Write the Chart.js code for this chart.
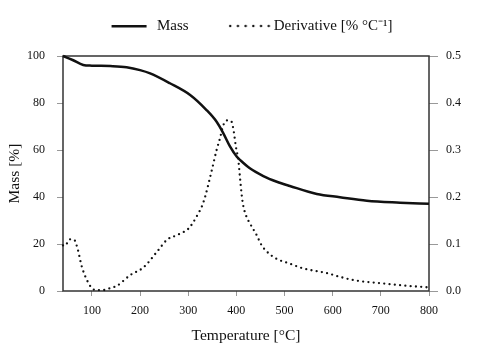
<!DOCTYPE html>
<html>
<head>
<meta charset="utf-8">
<script src="https://cdn.jsdelivr.net/npm/chart.js@4/dist/chart.umd.min.js"></script>
<style>
  html, body { margin: 0; padding: 0; background: #fff; }
  #wrap { width: 480px; height: 358px; }
</style>
</head>
<body>
<div id="wrap"><canvas id="tgaChart"></canvas></div>
<script>
// temperature / mass readings
const massTemps = [40, 60, 82, 100, 138, 172, 200, 221, 262, 304, 338, 359, 373, 387, 401, 408, 428, 456, 484, 511, 567, 615, 671, 740, 800];
const massValues = [100, 98.3, 96.2, 95.9, 95.7, 95.2, 94.0, 92.6, 88.4, 83.4, 77.0, 72.0, 67.1, 61.4, 57.1, 55.7, 52.2, 48.9, 46.5, 44.7, 41.3, 39.9, 38.4, 37.6, 37.1];

// derivative readings (right axis)
const derivTemps = [40, 44, 54, 63, 70, 79, 88, 100, 111, 124, 138, 152, 180, 207, 238, 256, 277, 301, 309, 321, 328, 335, 349, 359, 366, 373, 381, 390, 394, 399, 404, 408, 411, 414, 421, 428, 442, 452, 463, 484, 506, 539, 588, 615, 650, 705, 754, 795];
const derivValues = [0.097, 0.096, 0.110, 0.109, 0.091, 0.052, 0.027, 0.006, 0.002, 0.002, 0.006, 0.011, 0.034, 0.050, 0.087, 0.109, 0.119, 0.133, 0.144, 0.165, 0.179, 0.200, 0.257, 0.300, 0.325, 0.353, 0.363, 0.360, 0.343, 0.307, 0.279, 0.236, 0.205, 0.183, 0.158, 0.144, 0.119, 0.098, 0.084, 0.068, 0.060, 0.048, 0.038, 0.030, 0.022, 0.016, 0.011, 0.008];

const xTicks = [100, 200, 300, 400, 500, 600, 700, 800];
const massTicks = [0, 20, 40, 60, 80, 100];
const derivTicks = [0, 0.1, 0.2, 0.3, 0.4, 0.5];

const serif = '"Liberation Serif", "Times New Roman", serif';
const ink = '#111';

// little legend samples
function legendSample(dotted) {
    const c = document.createElement('canvas');
    c.width = dotted ? 66 : 56;
    c.height = 6;
    const g = c.getContext('2d');
    g.fillStyle = ink;
    if (dotted) {
        for (let i = 0; i < 6; i++) {
            g.beginPath();
            g.arc(25 + i * 7.7, 3, 1.2, 0, Math.PI * 2);
            g.fill();
        }
    } else {
        g.fillRect(18, 2, 35, 2.5);
    }
    return c;
}

const boxPlugin = {
    id: 'plotBox',
    afterInit(chart) {
        const lg = chart.legend;
        const fit = lg.fit;
        lg.fit = function() {
            fit.call(this);
            this.height = 56;
        };
    },
    beforeDraw(chart) {
        chart.legend.left = 6;
        chart.legend.top = -3;
    },
    beforeDatasetsDraw(chart) {
        const a = chart.chartArea;
        const ctx = chart.ctx;
        ctx.save();
        ctx.strokeStyle = '#333';
        ctx.lineWidth = 1.5;
        ctx.strokeRect(a.left, a.top, a.right - a.left, a.bottom - a.top);
        ctx.restore();
    }
};

const ctx = document.getElementById('tgaChart').getContext('2d');
new Chart(ctx, {
    type: 'line',
    data: {
        datasets: [{
            label: 'Mass',
            data: massTemps.map((t, i) => ({ x: t, y: massValues[i] })),
            yAxisID: 'y',
            borderColor: ink,
            borderWidth: 2.5,
            pointRadius: 0,
            cubicInterpolationMode: 'monotone',
            clip: 4
        }, {
            label: 'Derivative [% \u00B0C\u207B\u00B9]',
            data: derivTemps.map((t, i) => ({ x: t, y: derivValues[i] })),
            yAxisID: 'y1',
            borderColor: ink,
            borderWidth: 2.3,
            borderDash: [0, 5.3],
            borderCapStyle: 'round',
            pointRadius: 0,
            cubicInterpolationMode: 'monotone',
            clip: 4
        }]
    },
    options: {
        responsive: true,
        maintainAspectRatio: false,
        animation: false,
        layout: { padding: 0 },
        plugins: {
            tooltip: { enabled: false },
            legend: {
                position: 'top',
                labels: {
                    usePointStyle: true,
                    pointStyleWidth: 56,
                    padding: 21.5,
                    color: ink,
                    font: { family: serif, size: 15 },
                    generateLabels: function(chart) {
                        return chart.data.datasets.map((ds, i) => ({
                            text: ds.label,
                            pointStyle: legendSample(i === 1),
                            fillStyle: ink,
                            strokeStyle: ink,
                            lineWidth: 0,
                            fontColor: ink,
                            datasetIndex: i
                        }));
                    }
                }
            }
        },
        scales: {
            x: {
                type: 'linear',
                min: 40,
                max: 800,
                afterBuildTicks: s => { s.ticks = xTicks.map(v => ({ value: v })); },
                afterFit: s => { s.height = 67; },
                grid: { drawOnChartArea: false, tickLength: 5, color: '#999' },
                border: { display: false },
                ticks: { color: ink, padding: 8, font: { family: serif, size: 12 } },
                title: {
                    display: true,
                    text: 'Temperature [\u00B0C]',
                    color: ink,
                    font: { family: serif, size: 15.5 },
                    padding: { bottom: 13 }
                }
            },
            y: {
                position: 'left',
                min: 0,
                max: 100,
                afterBuildTicks: s => { s.ticks = massTicks.map(v => ({ value: v })); },
                afterFit: s => { s.width = 63; },
                grid: { drawOnChartArea: false, tickLength: 6, color: '#999' },
                border: { display: false },
                ticks: { color: ink, padding: 12, font: { family: serif, size: 12 } },
                title: {
                    display: true,
                    text: 'Mass [%]',
                    color: ink,
                    font: { family: serif, size: 15.5 },
                    padding: { top: 6 }
                }
            },
            y1: {
                position: 'right',
                min: 0,
                max: 0.5,
                afterBuildTicks: s => { s.ticks = derivTicks.map(v => ({ value: v })); },
                afterFit: s => { s.width = 51; },
                grid: { drawOnChartArea: false, tickLength: 9, color: '#999' },
                border: { display: false },
                ticks: {
                    color: ink,
                    padding: 8,
                    font: { family: serif, size: 12 },
                    callback: v => v.toFixed(1)
                }
            }
        }
    },
    plugins: [boxPlugin]
});
</script>
</body>
</html>
